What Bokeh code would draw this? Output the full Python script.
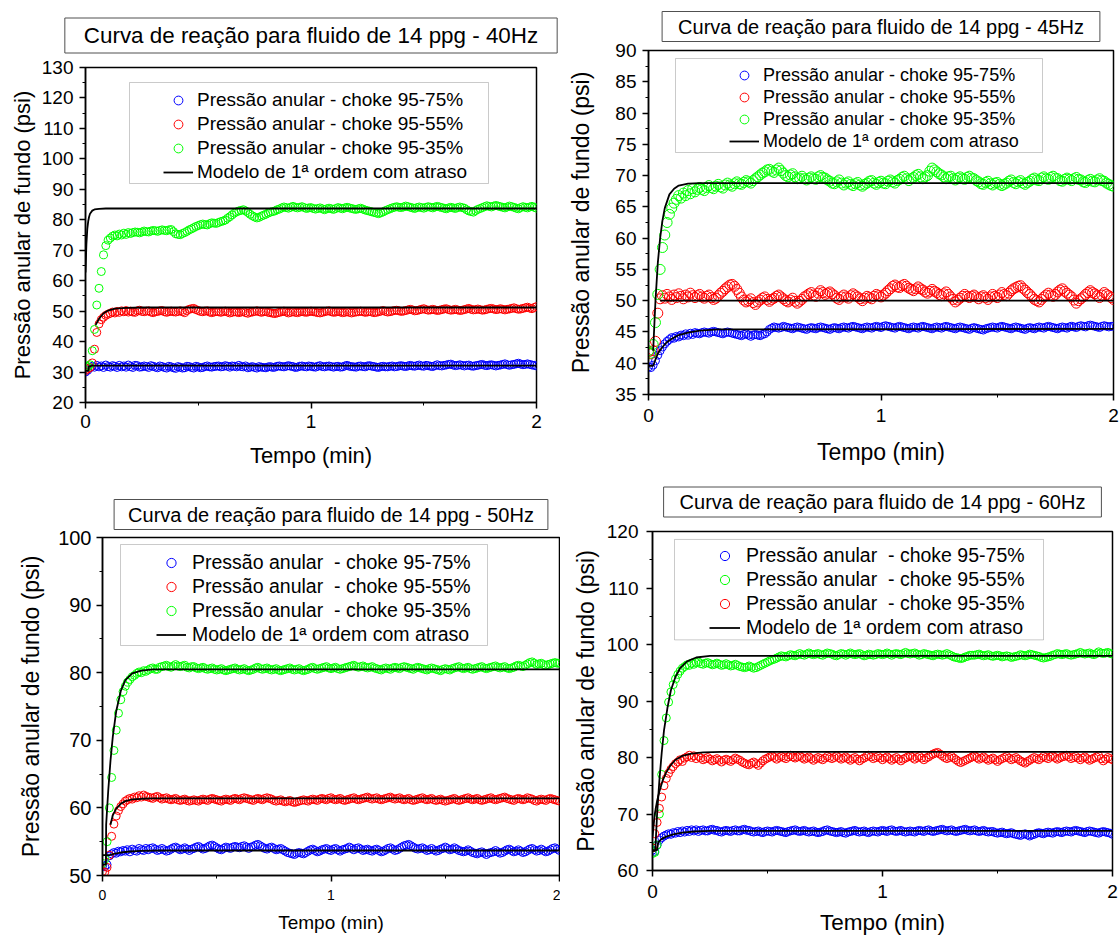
from bokeh.plotting import figure
from bokeh.models import Range1d, Legend, LegendItem, BoxAnnotation, FixedTicker, Title
from bokeh.layouts import column, row
from bokeh.embed import file_html
from bokeh.resources import INLINE

FONT = "Liberation Sans"
BLUE, RED, GREEN = "#0000FF", "#FF0000", "#00FF00"
MODEL_LABEL = "Modelo de 1ª ordem com atraso"

# sample times (min)
T = [0.00, 0.01, 0.02, 0.03, 0.04, 0.05, 0.06, 0.07, 0.08, 0.09,
     0.10, 0.11, 0.12, 0.13, 0.14, 0.15, 0.16, 0.17, 0.18, 0.19,
     0.20, 0.22, 0.24, 0.26, 0.28, 0.30, 0.32, 0.34, 0.36, 0.38,
     0.40, 0.42, 0.44, 0.46, 0.48, 0.50, 0.52, 0.54, 0.56, 0.58,
     0.60, 0.62, 0.64, 0.66, 0.68, 0.70, 0.72, 0.74, 0.76, 0.78,
     0.80, 0.82, 0.84, 0.86, 0.88, 0.90, 0.92, 0.94, 0.96, 0.98,
     1.00, 1.02, 1.04, 1.06, 1.08, 1.10, 1.12, 1.14, 1.16, 1.18,
     1.20, 1.22, 1.24, 1.26, 1.28, 1.30, 1.32, 1.34, 1.36, 1.38,
     1.40, 1.42, 1.44, 1.46, 1.48, 1.50, 1.52, 1.54, 1.56, 1.58,
     1.60, 1.62, 1.64, 1.66, 1.68, 1.70, 1.72, 1.74, 1.76, 1.78,
     1.80, 1.82, 1.84, 1.86, 1.88, 1.90, 1.92, 1.94, 1.96, 1.98,
     2.00]
# intermediate sample times (min)
T_MID = [0.21, 0.23, 0.25, 0.27, 0.29, 0.31, 0.33, 0.35, 0.37, 0.39,
         0.41, 0.43, 0.45, 0.47, 0.49, 0.51, 0.53, 0.55, 0.57, 0.59,
         0.61, 0.63, 0.65, 0.67, 0.69, 0.71, 0.73, 0.75, 0.77, 0.79,
         0.81, 0.83, 0.85, 0.87, 0.89, 0.91, 0.93, 0.95, 0.97, 0.99,
         1.01, 1.03, 1.05, 1.07, 1.09, 1.11, 1.13, 1.15, 1.17, 1.19,
         1.21, 1.23, 1.25, 1.27, 1.29, 1.31, 1.33, 1.35, 1.37, 1.39,
         1.41, 1.43, 1.45, 1.47, 1.49, 1.51, 1.53, 1.55, 1.57, 1.59,
         1.61, 1.63, 1.65, 1.67, 1.69, 1.71, 1.73, 1.75, 1.77, 1.79,
         1.81, 1.83, 1.85, 1.87, 1.89, 1.91, 1.93, 1.95, 1.97, 1.99]

X_TICKS = [0, 1, 2]
X_MINOR = [0.5, 1.5]

# ---------------- 40 Hz ----------------
HZ40_BLUE = [
    30.0, 30.6, 31.4, 31.9, 31.6, 32.2, 31.7, 32.0, 31.5, 32.3,
    31.8, 31.6, 32.1, 31.9, 31.5, 32.2, 31.7, 32.0, 31.6, 32.3,
    31.8, 32.2, 31.6, 32.0, 31.5, 31.9, 31.4, 31.8, 31.3, 31.7,
    31.2, 31.6, 31.4, 31.8, 31.3, 31.7, 31.5, 32.0, 31.6, 31.9,
    31.7, 32.1, 31.6, 31.9, 32.2, 31.7, 31.4, 31.8, 31.3, 31.6,
    31.4, 31.8, 31.6, 32.0, 31.7, 32.1, 31.8, 31.6, 32.0, 31.7,
    31.9, 31.6, 32.1, 31.7, 32.0, 31.6, 31.9, 31.7, 32.2, 31.8,
    31.6, 32.0, 31.7, 32.1, 31.8, 31.5, 31.9, 31.7, 32.0, 31.8,
    32.1, 31.8, 32.2, 31.9, 32.3, 31.9, 32.1, 31.8, 32.4, 32.0,
    32.3, 32.6, 32.1, 32.4, 32.0, 32.3, 31.9, 32.2, 32.5, 32.1,
    32.4, 32.0, 32.3, 32.7, 32.2, 32.5, 32.9, 32.4, 32.7, 32.3,
    32.0]
HZ40_BLUE_MID = [
    31.5, 32.1, 31.7, 31.8, 32.1, 31.6, 32.0, 31.5, 31.9, 31.4,
    31.8, 31.3, 31.9, 31.5, 31.9, 31.4, 31.8, 31.7, 31.8, 32.0,
    31.8, 31.9, 32.0, 31.7, 31.8, 32.0, 31.6, 31.5, 31.8, 31.5,
    31.7, 31.5, 31.9, 31.8, 31.9, 31.9, 31.5, 31.9, 31.8, 32.0,
    31.7, 31.9, 31.8, 31.9, 31.8, 31.8, 31.6, 32.0, 31.9, 31.7,
    31.9, 31.8, 32.0, 31.9, 31.6, 31.8, 31.7, 31.9, 31.7, 32.0,
    31.9, 32.0, 32.0, 32.1, 32.0, 32.2, 31.9, 32.1, 32.1, 32.2,
    32.5, 32.3, 32.2, 32.2, 32.2, 32.0, 32.1, 32.4, 32.2, 32.3,
    32.2, 32.2, 32.5, 32.4, 32.4, 32.7, 32.6, 32.5, 32.5, 32.2]
HZ40_RED = [
    30.5, 31.0, 31.5, 33.0, 37.5, 43.0, 45.8, 47.2, 48.0, 48.6,
    49.0, 49.3, 49.7, 49.4, 49.9, 49.6, 50.1, 49.8, 50.2, 49.7,
    50.0, 49.6, 50.3, 49.8, 50.1, 49.5, 49.9, 50.2, 49.6, 50.0,
    49.7, 50.1, 49.5, 50.6, 50.9, 50.2, 49.8, 50.1, 49.5, 49.9,
    49.6, 50.0, 49.4, 49.8, 49.5, 49.9, 49.3, 49.7, 50.1, 49.6,
    49.9, 49.5, 49.2, 49.6, 50.0, 49.4, 49.8, 49.5, 49.9, 49.6,
    50.0, 49.7, 49.4, 49.8, 50.1, 49.6, 49.9, 49.5, 49.8, 49.4,
    49.7, 50.0, 49.6, 49.9, 49.5, 49.8, 50.2, 49.7, 50.0, 50.3,
    49.9, 50.2, 50.6, 50.1, 50.4, 50.8, 50.3, 50.6, 50.2, 50.5,
    50.8, 50.3, 50.6, 50.2, 50.5, 50.9, 50.4, 50.7, 50.3, 50.6,
    50.9, 50.5, 50.8, 50.4, 50.7, 51.1, 50.6, 50.9, 51.3, 50.8,
    51.5]
HZ40_RED_MID = [
    49.7, 50.1, 49.9, 50.0, 49.7, 49.8, 50.1, 49.8, 49.8, 49.8,
    49.9, 49.8, 50.2, 50.8, 50.5, 49.9, 50.0, 49.7, 49.7, 49.8,
    49.8, 49.7, 49.6, 49.7, 49.7, 49.5, 49.6, 49.9, 49.8, 49.8,
    49.6, 49.3, 49.4, 49.8, 49.7, 49.6, 49.6, 49.7, 49.7, 49.8,
    49.8, 49.5, 49.6, 50.0, 49.8, 49.7, 49.7, 49.6, 49.6, 49.6,
    49.8, 49.8, 49.7, 49.7, 49.6, 50.0, 49.9, 49.8, 50.2, 50.1,
    50.0, 50.4, 50.4, 50.2, 50.6, 50.5, 50.4, 50.4, 50.3, 50.7,
    50.5, 50.4, 50.4, 50.3, 50.7, 50.6, 50.5, 50.5, 50.4, 50.8,
    50.7, 50.6, 50.6, 50.6, 50.9, 50.8, 50.7, 51.1, 51.0, 51.2]
HZ40_GREEN = [
    32.0, 31.7, 32.4, 37.0, 44.0, 52.0, 57.5, 63.0, 68.5, 71.5,
    73.3, 74.0, 74.6, 75.0, 74.7, 75.3, 75.0, 75.6, 75.2, 75.8,
    75.5, 76.0, 75.7, 76.3, 76.0, 76.5, 76.2, 76.7, 76.4, 76.8,
    75.4, 75.1, 75.8, 76.7, 77.4, 78.1, 78.6, 78.3, 79.0, 78.8,
    79.4, 79.9, 81.0, 82.2, 82.9, 83.3, 82.4, 81.3, 80.6, 81.2,
    81.8, 82.5, 82.9, 83.5, 84.2, 83.8, 84.4, 83.9, 84.3, 83.7,
    84.0, 83.5, 83.9, 83.3, 83.8, 83.4, 84.0, 83.6, 84.1, 83.7,
    83.4, 83.8, 83.2, 82.8, 82.4, 82.0, 82.6, 83.3, 83.9, 84.3,
    84.0, 84.5, 84.1, 83.7, 84.2, 83.8, 84.3, 83.9, 84.4, 84.0,
    83.6, 84.1, 83.7, 84.2, 83.8, 82.9, 82.5, 83.4, 84.0, 84.6,
    84.2, 84.7, 84.3, 83.9, 84.5, 84.1, 83.6, 84.3, 83.9, 84.4,
    83.8]
HZ40_GREEN_MID = [
    75.8, 75.9, 76.0, 76.1, 76.3, 76.4, 76.5, 76.5, 76.7, 76.1,
    75.2, 75.5, 76.2, 77.0, 77.8, 78.4, 78.4, 78.7, 78.9, 79.1,
    79.6, 80.5, 81.6, 82.6, 83.1, 82.9, 81.8, 80.9, 80.8, 81.5,
    82.2, 82.7, 83.3, 83.9, 84.0, 84.1, 84.1, 84.1, 84.0, 83.9,
    83.7, 83.7, 83.6, 83.6, 83.6, 83.7, 83.8, 83.9, 83.9, 83.5,
    83.6, 83.5, 83.0, 82.6, 82.2, 82.3, 83.0, 83.6, 84.1, 84.1,
    84.2, 84.3, 83.9, 84.0, 84.0, 84.1, 84.1, 84.2, 84.2, 83.8,
    83.9, 83.9, 84.0, 84.0, 83.3, 82.7, 83.0, 83.7, 84.3, 84.4,
    84.5, 84.5, 84.1, 84.2, 84.3, 83.8, 84.0, 84.1, 84.2, 84.1]
M40_B_T = [0.0, 0.012, 0.016, 0.03, 2.0]
M40_B_Y = [30.4, 30.4, 31.9, 32.1, 32.1]
M40_R_T = [0.045, 0.06, 0.08, 0.1, 0.13, 0.18, 0.25, 2.0]
M40_R_Y = [45.5, 47.5, 49.3, 50.2, 50.8, 51.1, 51.2, 51.2]
M40_G_T = [0.0, 0.004, 0.008, 0.012, 0.016, 0.02, 0.03, 0.04, 0.06, 0.09, 2.0]
M40_G_Y = [62.7, 72.0, 77.0, 79.5, 81.0, 82.0, 83.0, 83.4, 83.6, 83.7, 83.7]

# ---------------- 45 Hz ----------------
HZ45_BLUE = [
    39.4, 39.3, 39.7, 40.4, 41.3, 42.0, 42.6, 43.1, 43.5, 43.8,
    44.1, 44.0, 44.3, 44.2, 44.5, 44.4, 44.7, 44.5, 44.8, 44.6,
    44.9, 44.7, 45.0, 44.8, 45.1, 44.9, 44.7, 45.0, 44.8, 44.6,
    44.4, 44.7, 44.3, 44.6, 44.4, 44.7, 45.4, 45.8, 45.6, 45.9,
    45.7, 45.5, 45.8, 45.6, 45.4, 45.7, 45.5, 45.8, 45.6, 45.4,
    45.7, 45.5, 45.8, 45.6, 45.9, 45.7, 45.5, 45.8, 45.6, 45.9,
    45.7, 46.0, 45.8, 45.6, 45.9, 45.7, 45.5, 45.8, 45.6, 45.9,
    45.7, 45.5, 45.8, 45.6, 45.9, 45.7, 45.5, 45.8, 45.6, 45.4,
    45.7, 45.5, 45.3, 45.6, 45.8, 45.6, 45.9, 45.7, 45.5, 45.8,
    45.6, 45.4, 45.7, 45.5, 45.8, 45.6, 45.9, 45.7, 45.5, 45.8,
    45.6, 45.9, 45.7, 46.0, 45.8, 46.1, 45.9, 45.7, 46.0, 45.8,
    45.9]
HZ45_BLUE_MID = [
    44.8, 44.9, 44.9, 45.0, 45.0, 44.8, 44.9, 44.9, 44.7, 44.5,
    44.6, 44.5, 44.5, 44.5, 44.6, 45.0, 45.6, 45.7, 45.7, 45.8,
    45.6, 45.7, 45.7, 45.5, 45.6, 45.6, 45.7, 45.7, 45.5, 45.6,
    45.6, 45.7, 45.7, 45.8, 45.8, 45.6, 45.7, 45.7, 45.8, 45.8,
    45.9, 45.9, 45.7, 45.8, 45.8, 45.6, 45.7, 45.7, 45.8, 45.8,
    45.6, 45.7, 45.7, 45.8, 45.8, 45.6, 45.7, 45.7, 45.5, 45.6,
    45.6, 45.4, 45.5, 45.7, 45.7, 45.8, 45.8, 45.6, 45.7, 45.7,
    45.5, 45.6, 45.6, 45.7, 45.7, 45.8, 45.8, 45.6, 45.7, 45.7,
    45.8, 45.8, 45.9, 45.9, 46.0, 46.0, 45.8, 45.9, 45.9, 45.9]
HZ45_RED = [
    41.8, 41.5, 42.0, 43.5, 48.0, 50.3, 50.8, 50.4, 51.0, 50.6,
    50.2, 50.9, 50.5, 51.1, 50.7, 50.3, 50.9, 50.6, 51.2, 50.8,
    50.5, 51.0, 50.4, 50.9, 50.2, 50.8, 51.5, 52.2, 52.6, 51.8,
    50.6, 49.8, 50.3, 49.4, 50.1, 50.6, 49.9, 50.4, 50.9, 50.3,
    49.8, 50.4, 49.6, 50.2, 50.8, 51.3, 50.7, 51.6, 51.0, 51.4,
    50.8, 50.2, 50.9, 50.4, 51.1, 50.6, 50.0, 50.7, 50.3, 51.0,
    50.6, 51.2, 51.9, 52.5, 52.1, 52.6, 52.0, 51.6, 52.2, 51.7,
    51.2, 51.8, 51.3, 50.8, 51.4, 50.6, 49.8, 50.4, 51.0, 50.5,
    50.9, 50.3, 50.8, 50.2, 51.0, 50.5, 51.3, 50.8, 51.6, 52.1,
    52.4, 51.7, 51.0, 50.2, 49.8, 50.6, 51.2, 50.7, 51.4, 51.9,
    51.2, 50.6, 49.6, 50.3, 51.0, 51.6, 51.1, 50.5, 51.3, 50.8,
    50.2]
HZ45_RED_MID = [
    50.8, 50.6, 50.7, 50.5, 50.4, 51.2, 51.9, 52.5, 52.3, 51.2,
    50.1, 50.0, 49.7, 49.8, 50.4, 50.2, 50.2, 50.7, 50.6, 50.0,
    50.1, 49.9, 49.9, 50.6, 51.1, 50.9, 51.2, 51.3, 51.2, 51.1,
    50.4, 50.6, 50.6, 50.8, 50.8, 50.3, 50.4, 50.5, 50.7, 50.8,
    50.9, 51.6, 52.3, 52.2, 52.4, 52.3, 51.8, 51.9, 51.9, 51.4,
    51.5, 51.5, 51.0, 51.1, 51.0, 50.2, 50.1, 50.7, 50.7, 50.7,
    50.6, 50.6, 50.5, 50.6, 50.7, 50.9, 51.0, 51.2, 51.9, 52.3,
    52.0, 51.3, 50.6, 50.0, 50.2, 50.9, 50.9, 51.0, 51.7, 51.5,
    50.9, 50.1, 50.0, 50.6, 51.3, 51.3, 50.8, 50.9, 51.0, 50.5]
HZ45_GREEN = [
    42.0, 41.6, 43.0, 46.5, 51.0, 55.0, 58.5, 60.5, 62.5, 63.8,
    64.8, 65.6, 66.2, 66.8, 66.4, 67.2, 66.8, 67.6, 67.1, 67.9,
    67.4, 68.1, 67.6, 68.4, 67.9, 68.6, 68.0, 68.8, 68.3, 69.0,
    68.6, 69.2, 68.8, 69.5, 70.1, 70.6, 71.0, 70.5, 71.2, 70.4,
    69.8, 70.3, 69.5, 69.9, 69.3, 69.8, 69.4, 70.0, 69.6, 69.1,
    68.7, 69.3, 68.5, 69.0, 68.4, 68.9, 68.3, 68.8, 69.2, 68.6,
    69.1, 68.7, 69.3, 68.8, 69.4, 69.9, 69.2, 69.7, 70.2, 69.5,
    70.0, 71.2, 70.6, 70.1, 69.5, 69.9, 69.3, 69.8, 69.4, 69.9,
    69.5, 69.0, 68.6, 69.1, 68.5, 68.9, 68.4, 68.8, 69.3, 68.7,
    69.2, 68.6, 69.1, 69.6, 69.2, 69.8, 69.4, 69.9, 69.5, 69.1,
    69.6, 69.2, 69.7, 69.3, 68.9, 69.4, 69.0, 69.5, 69.1, 68.6,
    68.3]
HZ45_GREEN_MID = [
    67.8, 67.8, 68.1, 68.1, 68.3, 68.2, 68.5, 68.5, 68.7, 68.7,
    68.9, 69.0, 69.2, 69.8, 70.4, 70.9, 70.7, 70.9, 70.8, 70.0,
    70.1, 69.8, 69.6, 69.5, 69.6, 69.5, 69.8, 69.7, 69.3, 68.8,
    69.0, 68.8, 68.8, 68.6, 68.7, 68.5, 68.6, 69.1, 68.8, 68.9,
    68.8, 69.1, 69.0, 69.2, 69.7, 69.5, 69.5, 70.0, 69.8, 69.8,
    70.7, 70.9, 70.3, 69.8, 69.8, 69.5, 69.6, 69.5, 69.7, 69.6,
    69.2, 68.7, 68.9, 68.7, 68.8, 68.6, 68.6, 69.1, 68.9, 69.0,
    68.8, 68.9, 69.4, 69.3, 69.6, 69.5, 69.7, 69.6, 69.2, 69.4,
    69.4, 69.5, 69.4, 69.0, 69.2, 69.1, 69.3, 69.2, 68.8, 68.4]
M45_B_T = [0.0, 0.02, 0.03, 0.04, 0.05, 0.065, 0.08, 0.1, 0.13, 0.17, 0.22, 0.3, 2.0]
M45_B_Y = [39.6, 39.6, 40.6, 41.5, 42.1, 42.8, 43.4, 43.9, 44.5, 44.9, 45.2, 45.4, 45.5]
M45_R_T = [0.05, 2.0]
M45_R_Y = [50.0, 50.0]
M45_G_T = [0.02, 0.025, 0.03, 0.04, 0.05, 0.06, 0.07, 0.09, 0.11, 0.13, 0.17, 0.22, 2.0]
M45_G_Y = [42.0, 46.0, 50.0, 56.0, 60.0, 62.8, 64.8, 67.0, 67.9, 68.4, 68.7, 68.8, 68.8]

# ---------------- 50 Hz ----------------
HZ50_BLUE = [
    51.4, 51.3, 51.6, 52.9, 53.2, 53.4, 53.3, 53.6, 53.5, 53.7,
    53.6, 53.8, 53.5, 53.9, 53.7, 53.6, 54.0, 53.8, 53.7, 54.0,
    53.8, 54.1, 53.7, 54.0, 53.6, 53.9, 54.2, 53.8, 54.1, 53.7,
    54.0, 54.3, 53.9, 54.2, 54.5, 54.1, 53.8, 54.2, 54.0, 54.3,
    54.1, 54.4, 54.0, 54.3, 54.6, 54.2, 53.9, 54.2, 53.8, 54.0,
    53.6, 53.3, 53.1, 53.4, 53.2, 53.6, 53.9, 53.5, 53.8, 54.0,
    53.7, 54.0, 53.6, 53.9, 54.2, 53.8, 54.1, 53.7, 53.9, 53.6,
    53.9, 53.5, 53.8, 54.1, 53.7, 54.0, 54.4, 54.6, 54.2, 53.9,
    54.1, 53.7, 54.0, 53.6, 53.9, 54.2, 53.8, 54.1, 53.7, 53.5,
    53.8, 53.4, 53.2, 53.5, 53.1, 53.4, 53.7, 53.3, 53.6, 53.9,
    53.5, 53.8, 53.4, 53.7, 54.0, 53.6, 53.9, 53.5, 53.8, 54.1,
    53.7]
HZ50_BLUE_MID = [
    54.0, 53.9, 53.8, 53.8, 53.7, 54.1, 54.0, 53.9, 53.9, 53.9,
    54.2, 54.1, 54.0, 54.4, 54.3, 53.9, 54.0, 54.1, 54.2, 54.2,
    54.3, 54.2, 54.2, 54.5, 54.4, 54.0, 54.1, 54.0, 53.9, 53.8,
    53.4, 53.2, 53.3, 53.3, 53.4, 53.8, 53.7, 53.6, 53.9, 53.8,
    53.9, 53.8, 53.8, 54.0, 54.0, 54.0, 53.9, 53.8, 53.7, 53.8,
    53.7, 53.6, 54.0, 53.9, 53.8, 54.2, 54.5, 54.4, 54.0, 54.0,
    53.9, 53.8, 53.8, 53.7, 54.0, 54.0, 53.9, 53.9, 53.6, 53.6,
    53.6, 53.3, 53.4, 53.3, 53.3, 53.5, 53.5, 53.4, 53.8, 53.7,
    53.6, 53.6, 53.5, 53.9, 53.8, 53.7, 53.7, 53.6, 54.0, 53.9]
HZ50_RED = [
    50.6, 50.5, 51.2, 53.0, 55.8, 57.6, 58.8, 59.6, 60.2, 60.6,
    61.0, 61.2, 61.4, 61.3, 61.6, 61.5, 61.8, 61.6, 61.9, 61.7,
    61.6, 61.4, 61.7, 61.3, 61.5, 61.2, 61.4, 61.1, 61.3, 61.0,
    61.2, 61.0, 61.3, 61.1, 61.4, 61.2, 61.0, 61.3, 61.1, 61.4,
    61.2, 61.5, 61.3, 61.1, 61.4, 61.2, 61.5, 61.3, 61.0, 61.2,
    60.9, 61.1, 60.8, 61.0, 61.2, 61.0, 61.3, 61.1, 61.4, 61.2,
    61.5, 61.2, 61.4, 61.1, 61.3, 61.5, 61.2, 61.4, 61.6, 61.3,
    61.5, 61.2, 61.4, 61.6, 61.3, 61.5, 61.2, 61.4, 61.1, 61.3,
    61.5, 61.2, 61.4, 61.1, 61.3, 61.0, 61.2, 61.4, 61.1, 61.3,
    61.5, 61.2, 61.4, 61.1, 61.3, 61.5, 61.2, 61.4, 61.6, 61.3,
    61.1, 61.4, 61.2, 61.5, 61.3, 61.0, 61.3, 61.1, 61.4, 61.2,
    61.0]
HZ50_RED_MID = [
    61.5, 61.6, 61.5, 61.4, 61.3, 61.3, 61.2, 61.2, 61.1, 61.1,
    61.1, 61.2, 61.2, 61.3, 61.3, 61.1, 61.2, 61.2, 61.3, 61.3,
    61.4, 61.4, 61.2, 61.3, 61.3, 61.4, 61.4, 61.1, 61.1, 61.0,
    61.0, 60.9, 60.9, 61.1, 61.1, 61.2, 61.2, 61.3, 61.3, 61.4,
    61.3, 61.3, 61.2, 61.2, 61.4, 61.3, 61.3, 61.5, 61.4, 61.4,
    61.3, 61.3, 61.5, 61.4, 61.4, 61.3, 61.3, 61.2, 61.2, 61.4,
    61.3, 61.3, 61.2, 61.2, 61.1, 61.1, 61.3, 61.2, 61.2, 61.4,
    61.3, 61.3, 61.2, 61.2, 61.4, 61.3, 61.3, 61.5, 61.4, 61.2,
    61.3, 61.3, 61.3, 61.4, 61.1, 61.2, 61.2, 61.3, 61.3, 61.1]
HZ50_GREEN = [
    51.8, 52.4, 55.0, 60.0, 64.5, 68.5, 71.5, 74.0, 76.0, 77.2,
    78.0, 78.6, 79.0, 79.4, 79.6, 79.9, 80.1, 80.0, 80.3, 80.2,
    80.4, 80.7, 80.5, 80.9, 81.1, 80.8, 81.2, 80.9, 81.1, 80.7,
    80.9, 80.6, 80.8, 80.5, 80.7, 80.4, 80.6, 80.3, 80.5, 80.7,
    80.4, 80.6, 80.3, 80.5, 80.8, 80.5, 80.7, 80.4, 80.6, 80.3,
    80.5, 80.7, 80.4, 80.6, 80.3, 80.5, 80.8, 80.5, 80.7, 80.9,
    80.6, 80.8, 80.5, 80.7, 80.9, 81.1, 80.8, 81.0, 80.7, 80.9,
    80.6, 80.4, 80.7, 80.5, 80.8, 80.6, 80.9, 80.7, 80.5, 80.8,
    80.6, 80.4, 80.7, 80.5, 80.3, 80.6, 80.4, 80.7, 80.9, 80.6,
    80.8, 80.5, 80.7, 80.9, 80.6, 80.8, 81.0, 80.7, 80.9, 80.6,
    80.8, 81.1, 80.9, 81.3, 81.6, 81.2, 81.4, 81.1, 81.3, 81.5,
    81.4]
HZ50_GREEN_MID = [
    80.6, 80.5, 80.8, 81.0, 80.9, 81.0, 81.0, 81.0, 80.8, 80.9,
    80.7, 80.7, 80.6, 80.6, 80.5, 80.5, 80.4, 80.4, 80.6, 80.5,
    80.5, 80.4, 80.4, 80.7, 80.6, 80.6, 80.5, 80.5, 80.4, 80.4,
    80.6, 80.5, 80.5, 80.4, 80.4, 80.7, 80.6, 80.6, 80.8, 80.7,
    80.7, 80.6, 80.6, 80.8, 81.0, 80.9, 80.9, 80.8, 80.8, 80.7,
    80.5, 80.6, 80.6, 80.7, 80.7, 80.8, 80.8, 80.6, 80.7, 80.7,
    80.5, 80.6, 80.6, 80.4, 80.5, 80.5, 80.6, 80.8, 80.7, 80.7,
    80.6, 80.6, 80.8, 80.7, 80.7, 80.9, 80.8, 80.8, 80.7, 80.7,
    81.0, 81.0, 81.1, 81.5, 81.4, 81.3, 81.2, 81.2, 81.4, 81.4]
M50_B_T = [0.0, 0.03, 0.05, 0.08, 0.12, 0.17, 0.25, 2.0]
M50_B_Y = [53.0, 53.0, 53.2, 53.4, 53.55, 53.65, 53.7, 53.7]
M50_R_T = [0.035, 0.045, 0.06, 0.08, 0.1, 0.13, 0.17, 0.22, 2.0]
M50_R_Y = [57.5, 58.9, 59.9, 60.6, 61.0, 61.25, 61.35, 61.4, 61.4]
M50_G_T = [0.0, 0.015, 0.016, 0.025, 0.035, 0.045, 0.06, 0.08, 0.1, 0.13, 0.17, 0.22, 2.0]
M50_G_Y = [51.6, 51.6, 57.5, 62.5, 67.0, 70.5, 74.3, 77.3, 78.9, 79.9, 80.3, 80.5, 80.5]

# ---------------- 60 Hz ----------------
HZ60_BLUE = [
    63.6, 63.4, 64.5, 65.4, 65.8, 66.1, 66.3, 66.5, 66.4, 66.7,
    66.6, 66.9, 66.7, 67.0, 66.8, 67.1, 66.9, 67.2, 67.0, 67.2,
    66.9, 67.2, 67.0, 67.3, 67.1, 66.8, 67.1, 66.9, 67.2, 67.0,
    67.3, 67.1, 66.8, 67.0, 66.7, 67.0, 66.8, 67.1, 66.9, 66.7,
    67.0, 67.2, 66.9, 67.1, 66.8, 67.0, 66.7, 66.9, 67.2, 66.9,
    66.7, 66.9, 66.6, 66.9, 67.1, 66.8, 67.0, 66.7, 67.0, 66.8,
    67.1, 66.9, 67.2, 66.9, 67.1, 66.8, 67.0, 66.8, 67.1, 66.9,
    67.2, 66.9, 67.1, 67.3, 67.0, 67.2, 66.9, 67.1, 67.3, 67.0,
    67.2, 66.9, 67.1, 66.8, 66.9, 66.6, 66.8, 66.5, 66.7, 66.4,
    66.2, 66.5, 66.1, 66.4, 66.7, 66.5, 66.8, 66.6, 66.9, 66.7,
    67.0, 66.8, 67.1, 66.9, 66.7, 67.0, 66.8, 66.6, 66.9, 66.7,
    66.4]
HZ60_BLUE_MID = [
    67.1, 67.0, 67.2, 67.1, 66.9, 67.0, 67.0, 67.1, 67.0, 67.2,
    67.1, 66.9, 66.9, 66.8, 66.9, 66.9, 67.0, 67.0, 66.8, 66.9,
    67.1, 67.0, 67.0, 66.9, 66.9, 66.8, 66.8, 67.1, 67.0, 66.8,
    66.8, 66.7, 66.8, 67.0, 66.9, 66.9, 66.8, 66.9, 66.9, 67.0,
    67.0, 67.1, 67.0, 67.0, 66.9, 66.9, 66.9, 67.0, 67.0, 67.1,
    67.0, 67.0, 67.2, 67.1, 67.1, 67.0, 67.0, 67.2, 67.1, 67.1,
    67.0, 67.0, 66.9, 66.9, 66.7, 66.7, 66.6, 66.6, 66.5, 66.3,
    66.4, 66.3, 66.3, 66.6, 66.6, 66.7, 66.7, 66.8, 66.8, 66.9,
    66.9, 67.0, 67.0, 66.8, 66.9, 66.9, 66.7, 66.8, 66.8, 66.6]
HZ60_GREEN = [
    63.0, 63.2, 64.5, 70.0, 77.0, 83.0, 87.0, 89.8, 91.6, 92.9,
    93.9, 94.7, 95.3, 95.8, 96.1, 96.4, 96.3, 96.7, 96.5, 96.8,
    96.9, 96.5, 96.8, 96.4, 96.7, 96.3, 96.6, 96.2, 96.5, 96.1,
    95.9, 96.2, 95.8, 96.1, 96.5, 96.9, 97.3, 97.6, 98.0, 97.8,
    98.2, 98.0, 98.4, 98.1, 98.5, 98.2, 98.4, 98.1, 98.5, 98.3,
    98.0, 98.4, 98.1, 98.5, 98.2, 98.4, 98.0, 98.3, 98.1, 98.4,
    98.2, 98.5, 98.1, 98.4, 98.2, 98.6, 98.3, 98.5, 98.1, 98.4,
    98.2, 98.0, 98.3, 98.1, 98.4, 98.0, 97.7, 97.5, 97.8, 98.1,
    98.1, 98.3, 98.0, 98.2, 97.9, 98.1, 97.8, 98.0, 97.7, 97.9,
    98.2, 98.0, 98.3, 98.1, 97.9, 97.6, 97.8, 98.1, 98.4, 98.2,
    98.4, 98.1, 98.3, 98.6, 98.3, 98.5, 98.2, 98.7, 98.4, 98.6,
    98.3]
HZ60_GREEN_MID = [
    96.6, 96.7, 96.6, 96.5, 96.5, 96.4, 96.4, 96.3, 96.3, 96.0,
    96.0, 96.0, 95.9, 96.3, 96.7, 97.1, 97.4, 97.8, 97.9, 98.0,
    98.1, 98.2, 98.2, 98.3, 98.3, 98.3, 98.2, 98.3, 98.4, 98.1,
    98.2, 98.3, 98.3, 98.3, 98.3, 98.2, 98.1, 98.2, 98.2, 98.3,
    98.3, 98.3, 98.3, 98.3, 98.4, 98.4, 98.4, 98.3, 98.2, 98.3,
    98.1, 98.2, 98.2, 98.2, 98.2, 97.8, 97.6, 97.6, 97.9, 98.1,
    98.2, 98.1, 98.1, 98.0, 98.0, 98.0, 97.9, 97.9, 97.8, 98.0,
    98.1, 98.1, 98.2, 98.0, 97.7, 97.7, 97.9, 98.2, 98.3, 98.3,
    98.2, 98.2, 98.4, 98.4, 98.4, 98.3, 98.4, 98.5, 98.5, 98.4]
HZ60_RED = [
    64.0, 66.5, 68.5, 71.0, 73.0, 75.0, 76.3, 77.2, 77.9, 78.4,
    78.9, 79.2, 79.6, 79.3, 79.9, 80.1, 80.4, 80.0, 80.3, 79.8,
    80.2, 79.6, 80.0, 79.4, 79.8, 79.2, 79.7, 79.3, 79.9, 79.5,
    79.0, 78.7, 79.2, 78.6, 79.4, 79.9, 80.3, 79.7, 80.2, 79.8,
    80.4, 79.9, 80.3, 79.7, 80.1, 79.5, 80.0, 79.6, 80.2, 79.8,
    80.3, 79.7, 80.1, 79.5, 80.0, 79.4, 79.9, 80.4, 79.8, 80.2,
    79.6, 80.1, 79.5, 80.0, 79.4, 79.9, 80.3, 79.7, 80.2, 79.6,
    80.1, 80.6, 80.9, 80.3, 79.8, 80.2, 79.6, 79.1, 79.5, 79.9,
    80.3, 79.7, 80.1, 79.5, 79.9, 79.3, 79.8, 80.2, 79.6, 80.0,
    79.4, 79.0, 79.5, 80.0, 79.6, 80.2, 79.8, 80.3, 79.7, 80.1,
    80.4, 79.8, 80.2, 79.6, 80.1, 79.5, 79.9, 80.3, 79.4, 80.0,
    79.6]
HZ60_RED_MID = [
    79.9, 79.8, 79.7, 79.6, 79.5, 79.5, 79.5, 79.6, 79.7, 79.2,
    78.8, 79.0, 78.9, 79.0, 79.7, 80.1, 80.0, 80.0, 80.0, 80.1,
    80.1, 80.1, 80.0, 79.9, 79.8, 79.8, 79.8, 79.9, 80.0, 80.0,
    80.0, 79.9, 79.8, 79.8, 79.7, 79.7, 80.2, 80.1, 80.0, 79.9,
    79.9, 79.8, 79.8, 79.7, 79.7, 80.1, 80.0, 80.0, 79.9, 79.9,
    80.4, 80.8, 80.6, 80.0, 80.0, 79.9, 79.3, 79.3, 79.7, 80.1,
    80.0, 79.9, 79.8, 79.7, 79.6, 79.6, 80.0, 79.9, 79.8, 79.7,
    79.2, 79.3, 79.8, 79.8, 79.9, 80.0, 80.1, 80.0, 79.9, 80.2,
    80.1, 80.0, 79.9, 79.9, 79.8, 79.7, 80.1, 79.8, 79.7, 79.8]
M60_B_T = [0.0, 0.02, 0.025, 0.04, 0.06, 0.09, 0.13, 0.18, 0.25, 2.0]
M60_B_Y = [63.6, 63.6, 65.0, 65.6, 66.0, 66.4, 66.7, 66.9, 67.0, 67.0]
M60_G_T = [0.0, 0.012, 0.02, 0.03, 0.04, 0.05, 0.065, 0.08, 0.1, 0.12, 0.15, 0.19, 0.25, 2.0]
M60_G_Y = [63.5, 63.5, 70.0, 76.0, 80.8, 84.8, 88.8, 91.9, 94.3, 95.8, 97.0, 97.7, 98.0, 98.0]
M60_R_T = [0.0, 0.01, 0.02, 0.03, 0.045, 0.06, 0.08, 0.1, 0.13, 0.17, 0.22, 0.3, 2.0]
M60_R_Y = [66.0, 70.0, 72.3, 74.0, 76.0, 77.4, 78.7, 79.6, 80.3, 80.7, 80.9, 81.0, 81.0]

Y40_TICKS = [20, 30, 40, 50, 60, 70, 80, 90, 100, 110, 120, 130]
Y40_MINOR = [25, 35, 45, 55, 65, 75, 85, 95, 105, 115, 125]
Y45_TICKS = [35, 40, 45, 50, 55, 60, 65, 70, 75, 80, 85, 90]
Y45_MINOR = [37.5, 42.5, 47.5, 52.5, 57.5, 62.5, 67.5, 72.5, 77.5, 82.5, 87.5]
Y50_TICKS = [50, 60, 70, 80, 90, 100]
Y50_MINOR = [55, 65, 75, 85, 95]
Y60_TICKS = [60, 70, 80, 90, 100, 110, 120]
Y60_MINOR = [65, 75, 85, 95, 105, 115]

for s in (HZ40_BLUE, HZ40_RED, HZ40_GREEN, HZ45_BLUE, HZ45_RED, HZ45_GREEN,
          HZ50_BLUE, HZ50_RED, HZ50_GREEN, HZ60_BLUE, HZ60_GREEN, HZ60_RED):
    assert len(s) == len(T), len(s)
for s in (HZ40_BLUE_MID, HZ40_RED_MID, HZ40_GREEN_MID, HZ45_BLUE_MID, HZ45_RED_MID,
          HZ45_GREEN_MID, HZ50_BLUE_MID, HZ50_RED_MID, HZ50_GREEN_MID,
          HZ60_BLUE_MID, HZ60_GREEN_MID, HZ60_RED_MID):
    assert len(s) == len(T_MID), len(s)


def make_panel(c):
    ox, oy = c["origin"]
    W, H = c["size"]
    FL, FR, FT, FB = c["frame"]
    y0, y1 = c["yrange"]
    p = figure(width=W, height=H, output_backend="svg", toolbar_location=None,
               x_range=Range1d(0, 2), y_range=Range1d(y0, y1),
               min_border_left=FL - ox, min_border_right=W - (FR - ox),
               min_border_top=FT - oy, min_border_bottom=H - (FB - oy),
               background_fill_color="white", border_fill_color="white")
    p.xgrid.visible = False
    p.ygrid.visible = False
    p.outline_line_color = "black"
    p.outline_line_width = 1.5

    def to_data(px, py):
        return ((px - FL) / (FR - FL) * 2.0, y0 + (FB - py) / (FB - FT) * (y1 - y0))

    for ax in (p.xaxis[0], p.yaxis[0]):
        ax.axis_line_color = "black"
        ax.axis_line_width = 1.5
        ax.major_tick_line_color = "black"
        ax.major_tick_line_width = 1.5
        ax.minor_tick_line_color = "black"
        ax.minor_tick_line_width = 1
        ax.major_tick_in = 0
        ax.major_tick_out = 6
        ax.minor_tick_in = 0
        ax.minor_tick_out = 3
        ax.major_label_text_font = FONT
        ax.major_label_text_color = "black"
        ax.axis_label_text_font = FONT
        ax.axis_label_text_font_style = "normal"
        ax.axis_label_text_color = "black"
    xa, ya = p.xaxis[0], p.yaxis[0]
    xa.ticker = FixedTicker(ticks=X_TICKS, minor_ticks=X_MINOR)
    ya.ticker = FixedTicker(ticks=c["yticks"], minor_ticks=c["yminor"])
    xa.axis_label = "Tempo (min)"
    ya.axis_label = "Pressão anular de fundo (psi)"
    xa.major_label_text_font_size = c["xtick_fs"]
    ya.major_label_text_font_size = c["ytick_fs"]
    xa.axis_label_text_font_size = c["xlab_fs"]
    ya.axis_label_text_font_size = c["ylab_fs"]
    xa.major_label_standoff, xa.axis_label_standoff = c["x_std"]
    ya.major_label_standoff, ya.axis_label_standoff = c["y_std"]

    rends = []
    for label, color, ys, ys_mid, ms in c["series"]:
        r = p.scatter(T + T_MID, ys + ys_mid, marker="circle", size=ms, fill_alpha=0,
                      line_color=color, line_width=1)
        rends.append((label, r))
    model_r = None
    for mt, my in c["models"]:
        r = p.line(mt, my, line_color="black", line_width=1.8)
        if model_r is None:
            model_r = r

    # legend frame
    bl, br, bt, bb = c["legend_box"]
    xl, yb = to_data(bl, bb)
    xr, yt = to_data(br, bt)
    p.add_layout(BoxAnnotation(left=xl, right=xr, bottom=yb, top=yt,
                               fill_color="white", fill_alpha=1.0,
                               line_color="#505050", line_width=1))
    lg = c["legend"]
    h, sp = lg["h"], lg["sp"]
    n = len(rends) + 1
    top = lg["first"] - h / 2.0
    bottom = top + n * h + (n - 1) * sp
    items = [LegendItem(label=l, renderers=[r]) for l, r in rends]
    items.append(LegendItem(label=MODEL_LABEL, renderers=[model_r]))
    legend = Legend(items=items, location=(lg["left"] - FL, FB - bottom),
                    padding=0, margin=0, spacing=sp,
                    glyph_width=lg["gw"], glyph_height=h, label_height=h,
                    label_standoff=lg["std"], label_text_font=FONT,
                    label_text_font_size=lg["fs"], label_text_color="black",
                    border_line_alpha=0, background_fill_alpha=0)
    p.add_layout(legend)

    # boxed title (padding = (horizontal, vertical))
    p.title = Title(text=c["title"], align="center", text_font=FONT,
                    text_font_size=c["title_fs"], text_font_style="normal",
                    text_color="black", background_fill_color="white",
                    border_line_color="#505050", border_line_width=1,
                    padding=c["title_pad"], standoff=c["title_std"])
    return p


L75 = "Pressão anular - choke 95-75%"
L55 = "Pressão anular - choke 95-55%"
L35 = "Pressão anular - choke 95-35%"
L75b = "Pressão anular  - choke 95-75%"
L55b = "Pressão anular  - choke 95-55%"
L35b = "Pressão anular  - choke 95-35%"

p1 = make_panel(dict(
    origin=(0, 0), size=(560, 470), frame=(85, 536, 67, 402), yrange=(20, 130),
    yticks=Y40_TICKS, yminor=Y40_MINOR,
    xtick_fs="19px", ytick_fs="19px", xlab_fs="22px", ylab_fs="22px",
    x_std=(6, 12), y_std=(6, 4),
    series=[(L75, BLUE, HZ40_BLUE, HZ40_BLUE_MID, 8), (L55, RED, HZ40_RED, HZ40_RED_MID, 8),
            (L35, GREEN, HZ40_GREEN, HZ40_GREEN_MID, 8)],
    models=[(M40_G_T, M40_G_Y), (M40_R_T, M40_R_Y), (M40_B_T, M40_B_Y)],
    legend_box=(129, 488, 82, 183),
    legend=dict(left=163, first=99.5, h=22, sp=2, gw=30, std=4, fs="19px"),
    title="Curva de reação para fluido de 14 ppg - 40Hz", title_std=29,
    title_fs="22.4px", title_pad=(19, 5)))

p2 = make_panel(dict(
    origin=(560, 0), size=(560, 470), frame=(648, 1113, 50, 394), yrange=(35, 90),
    yticks=Y45_TICKS, yminor=Y45_MINOR,
    xtick_fs="19px", ytick_fs="19px", xlab_fs="23px", ylab_fs="23px",
    x_std=(8, 14), y_std=(6, 18),
    series=[(L75, BLUE, HZ45_BLUE, HZ45_BLUE_MID, 8), (L55, RED, HZ45_RED, HZ45_RED_MID, 10),
            (L35, GREEN, HZ45_GREEN, HZ45_GREEN_MID, 10)],
    models=[(M45_G_T, M45_G_Y), (M45_R_T, M45_R_Y), (M45_B_T, M45_B_Y)],
    legend_box=(675, 1042, 58, 152),
    legend=dict(left=729, first=75, h=22, sp=0, gw=30, std=4, fs="18px"),
    title="Curva de reação para fluido de 14 ppg - 45Hz", title_std=18,
    title_fs="20px", title_pad=(16, 4)))

p3 = make_panel(dict(
    origin=(0, 470), size=(560, 467), frame=(102, 559, 537, 875), yrange=(50, 100),
    yticks=Y50_TICKS, yminor=Y50_MINOR,
    xtick_fs="14px", ytick_fs="20px", xlab_fs="19px", ylab_fs="23px",
    x_std=(8, 9), y_std=(5, 11),
    series=[(L75b, BLUE, HZ50_BLUE, HZ50_BLUE_MID, 8), (L55b, RED, HZ50_RED, HZ50_RED_MID, 8),
            (L35b, GREEN, HZ50_GREEN, HZ50_GREEN_MID, 8)],
    models=[(M50_G_T, M50_G_Y), (M50_R_T, M50_R_Y), (M50_B_T, M50_B_Y)],
    legend_box=(120, 487, 544, 645),
    legend=dict(left=156, first=562, h=23, sp=1, gw=30, std=6, fs="19.5px"),
    title="Curva de reação para fluido de 14 ppg - 50Hz", title_std=16,
    title_fs="20px", title_pad=(14, 4)))

p4 = make_panel(dict(
    origin=(560, 470), size=(560, 467), frame=(652, 1112, 529, 870), yrange=(60, 120),
    yticks=Y60_TICKS, yminor=Y60_MINOR,
    xtick_fs="19px", ytick_fs="19px", xlab_fs="22.5px", ylab_fs="23px",
    x_std=(8, 9), y_std=(8, 5),
    series=[(L75b, BLUE, HZ60_BLUE, HZ60_BLUE_MID, 8), (L55b, GREEN, HZ60_GREEN, HZ60_GREEN_MID, 8),
            (L35b, RED, HZ60_RED, HZ60_RED_MID, 8)],
    models=[(M60_G_T, M60_G_Y), (M60_R_T, M60_R_Y), (M60_B_T, M60_B_Y)],
    legend_box=(674, 1043, 537, 638),
    legend=dict(left=709, first=555, h=23, sp=1, gw=31, std=6, fs="19.5px"),
    title="Curva de reação para fluido de 14 ppg - 60Hz", title_std=29,
    title_fs="20px", title_pad=(16, 4)))

layout = row(column(row(p1), row(p3)), column(row(p2), row(p4)))
open("out.html", "w").write(file_html(layout, INLINE))
